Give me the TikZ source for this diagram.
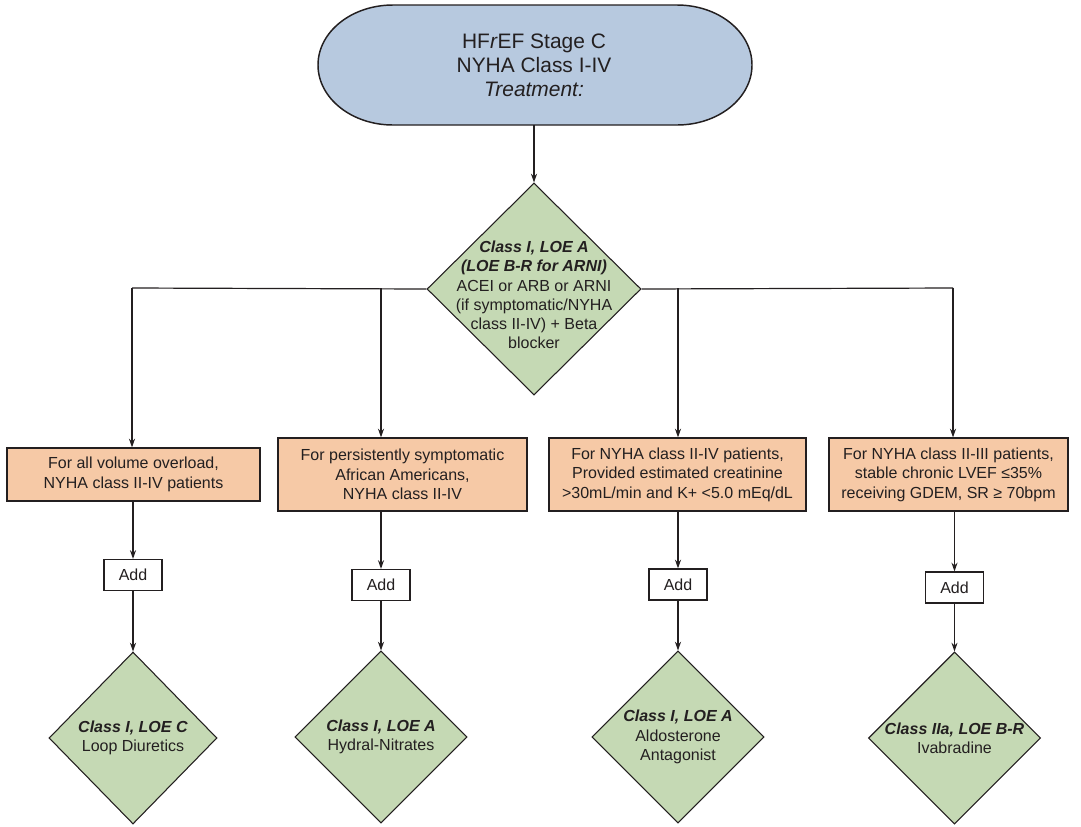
\documentclass[tikz,border=0pt]{standalone}
\usepackage{fontspec}
\setmainfont{Liberation Sans}
\usetikzlibrary{shapes.geometric,arrows.meta}
\definecolor{stadblue}{HTML}{B7C9DF}
\definecolor{dgreen}{HTML}{C5D9B4}
\definecolor{boxorange}{HTML}{F6C9A6}
\definecolor{inkc}{HTML}{231F20}
\begin{document}
\begin{tikzpicture}[x=0.75pt,y=-0.75pt,
  conn/.style={draw=inkc, line width=0.9pt},
  arr/.style={conn,-{Stealth[length=6.5pt,width=4.5pt,inset=2pt]}},
  cond/.style={draw=inkc,line width=0.9pt,fill=boxorange,inner sep=0pt,align=center,
    font=\fontsize{12}{14.6}\selectfont,text=inkc,minimum height=73*0.75pt},
  rx/.style={diamond,draw=inkc,line width=0.8pt,fill=dgreen,inner sep=0pt,
    minimum width=172*0.75pt,minimum height=172*0.75pt},
  rxtext/.style={align=center,font=\fontsize{12}{14.4}\selectfont,text=inkc,inner sep=0pt},
  addbox/.style={draw=inkc,line width=0.9pt,fill=white,inner sep=0pt,
    minimum width=58*0.75pt,minimum height=31*0.75pt,font=\fontsize{12}{14}\selectfont,text=inkc},
  ]
\useasboundingbox (0,0) rectangle (1081,826);

% top stadium
\path[draw=inkc,line width=1.1pt,fill=stadblue]
  (393,5) -- (677,5) arc[start angle=90,end angle=-90,x radius=56.25pt,y radius=45pt]
  -- (393,125) arc[start angle=270,end angle=90,x radius=56.25pt,y radius=45pt] -- cycle;
\node[align=center,font=\fontsize{15.7}{18}\selectfont,text=inkc,inner sep=0pt,
  minimum width=434*0.75pt,minimum height=120*0.75pt] (top) at (534,65)
  {HF\textit{r}EF Stage C\\NYHA Class I-IV\\\textit{Treatment:}};

% main diamond
\node[rx,minimum width=214*0.75pt,minimum height=212*0.75pt] (d0) at (534,289) {};
\node[rxtext] (d0t) at (534,295) {\textbf{\textit{Class I, LOE A}}\\\textbf{\textit{(LOE B-R for ARNI)}}\\ACEI or ARB or ARNI\\(if symptomatic/NYHA\\class II-IV) + Beta\\blocker};

\draw[arr] (top.south) -- (d0.north);

% junctions
\coordinate (j1) at (132,288);
\coordinate (j2) at (381,288);
\coordinate (j3) at (678,288);
\coordinate (j4) at (953,288);
\draw[conn] (d0.west) -- (j1);
\draw[conn] (d0.east) -- (j4);

% condition boxes
\node[cond,minimum width=253*0.75pt,minimum height=53*0.75pt] (b1) at (133.5,474.5)
  {For all volume overload,\\NYHA class II-IV patients};
\node[cond,minimum width=249*0.75pt] (b2) at (402.5,474.5)
  {For persistently symptomatic\\African Americans,\\NYHA class II-IV};
\node[cond,minimum width=257*0.75pt] (b3) at (677.5,474.5)
  {For NYHA class II-IV patients,\\Provided estimated creatinine\\>30mL/min and K+ <5.0 mEq/dL};
\node[cond,minimum width=239*0.75pt] (b4) at (948.5,474.5)
  {For NYHA class II-III patients,\\stable chronic LVEF ≤35\%\\receiving GDEM, SR ≥ 70bpm};

\draw[arr] (j1) -- (j1 |- b1.north);
\draw[arr] (j2) -- (j2 |- b2.north);
\draw[arr] (j3) -- (j3 |- b3.north);
\draw[arr] (j4) -- (j4 |- b4.north);

% add boxes
\node[addbox] (a1) at (133,575) {Add};
\node[addbox] (a2) at (381,585) {Add};
\node[addbox] (a3) at (678,584.5) {Add};
\node[addbox] (a4) at (954.5,587.5) {Add};

\draw[arr] (a1.north |- b1.south) -- (a1.north);
\draw[arr] (a2.north |- b2.south) -- (a2.north);
\draw[arr] (a3.north |- b3.south) -- (a3.north);
\draw[arr] (a4.north |- b4.south) -- (a4.north);

% result diamonds
\node[rx,minimum width=168*0.75pt] (r1) at (133,738) {};
\node[rx] (r2) at (381,737) {};
\node[rx] (r3) at (678,737) {};
\node[rx] (r4) at (954.5,738) {};
\node[rxtext] (r1t) at (r1) {\textbf{\textit{Class I, LOE C}}\\Loop Diuretics};
\node[rxtext] (r2t) at (r2) {\textbf{\textit{Class I, LOE A}}\\Hydral-Nitrates};
\node[rxtext] (r3t) at (r3) {\textbf{\textit{Class I, LOE A}}\\Aldosterone\\Antagonist};
\node[rxtext] (r4t) at (r4) {\textbf{\textit{Class IIa, LOE B-R}}\\Ivabradine};

\draw[arr] (a1.south) -- (r1.north);
\draw[arr] (a2.south) -- (r2.north);
\draw[arr] (a3.south) -- (r3.north);
\draw[arr] (a4.south) -- (r4.north);
\end{tikzpicture}
\end{document}
